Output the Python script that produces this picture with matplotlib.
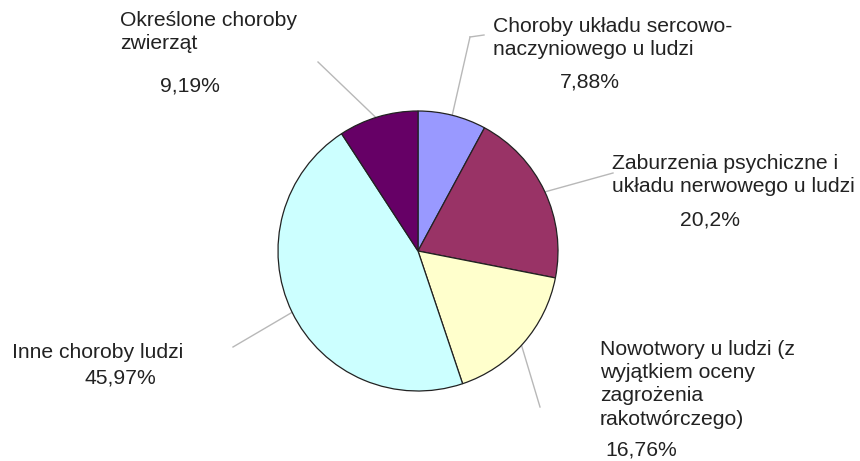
import numpy as np
import matplotlib.pyplot as plt

# udziały kategorii (od góry, zgodnie z ruchem wskazówek zegara)
labels = ['Choroby układu sercowo-\nnaczyniowego u ludzi',
          'Zaburzenia psychiczne i\nukładu nerwowego u ludzi',
          'Nowotwory u ludzi (z\nwyjątkiem oceny\nzagrożenia\nrakotwórczego)',
          'Inne choroby ludzi',
          'Określone choroby\nzwierząt']
values = [7.88, 20.2, 16.76, 45.97, 9.19]
pct_text = ['7,88%', '20,2%', '16,76%', '45,97%', '9,19%']
colors = ['#9999FF', '#993366', '#FFFFCC', '#CCFFFF', '#660066']

plt.rcParams['font.family'] = ['Liberation Sans', 'DejaVu Sans']

W, H = 860, 461
fig = plt.figure(figsize=(W / 100, H / 100), dpi=100)
ax = fig.add_axes([0, 0, 1, 1])

def px(x, y):
    # współrzędne liczone od lewego górnego rogu
    return x, H - y

cx, cy = px(418, 251)
r = 140
wedges, _ = ax.pie(values, colors=colors, startangle=90, counterclock=False,
                   center=(cx, cy), radius=r, frame=True,
                   wedgeprops=dict(edgecolor='#222222', linewidth=0.9))
ax.set_xlim(0, W)
ax.set_ylim(0, H)
ax.set_aspect('equal')
ax.axis('off')

# pozycje etykiet: nazwa, procent, koniec linii odniesienia
name_pos = [(493, 17, 'left'), (612, 154, 'left'), (600, 340, 'left'),
            (12, 352, 'left'), (120, 11, 'left')]
pct_pos = [(590, 82, 'center'), (710, 220, 'center'), (605, 450, 'left'),
           (120, 378, 'center'), (190, 86, 'center')]
line_end = [(470, 37), (613, 173), (540, 407), (233, 347), (318, 62)]

txt = dict(fontsize=15.2, color='#222222')
gray = '#b8b8b8'
for w, lab, pct, npos, ppos, le in zip(wedges, labels, pct_text,
                                       name_pos, pct_pos, line_end):
    mid = np.deg2rad((w.theta1 + w.theta2) / 2)
    ex = cx + r * np.cos(mid) * 0.97
    ey = cy + r * np.sin(mid) * 0.97
    lx, ly = px(*le)
    ax.plot([ex, lx], [ey, ly], color=gray, lw=1, zorder=0)
    va = 'center' if '\n' not in lab else 'top'
    ax.text(*px(npos[0], npos[1]), lab, ha=npos[2], va=va, linespacing=1.28, **txt)
    ax.text(*px(ppos[0], ppos[1]), pct, ha=ppos[2], va='center', **txt)

ax.plot(*zip(px(470, 37), px(484, 35)), color=gray, lw=1, zorder=0)

fig.savefig('out.png', dpi=100)
